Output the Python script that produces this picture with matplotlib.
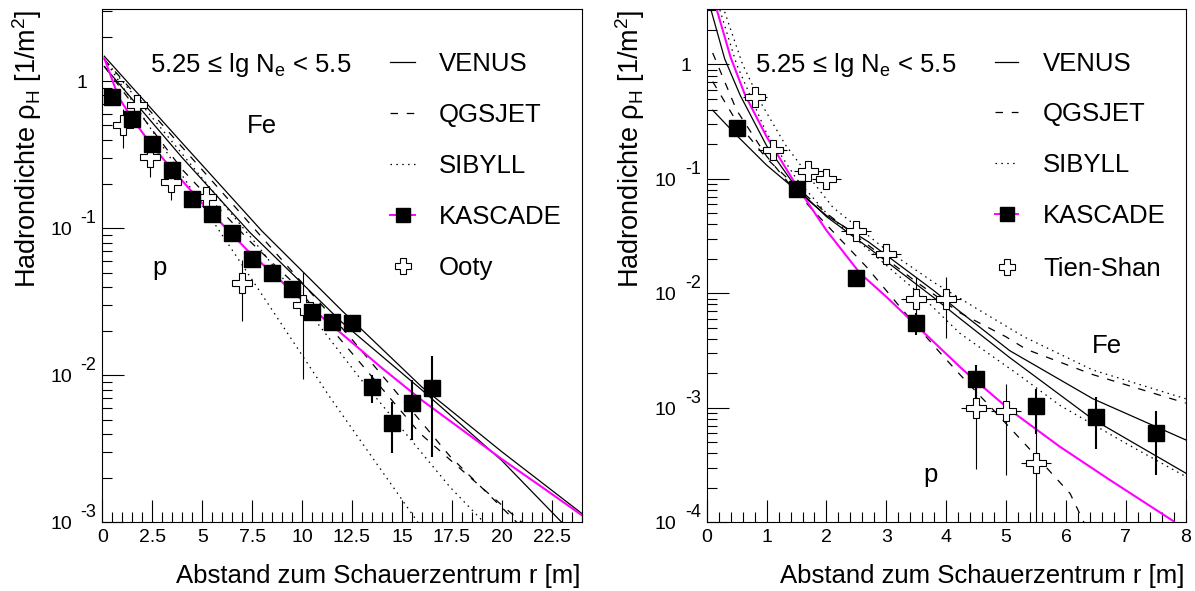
import matplotlib
matplotlib.use('Agg')
import matplotlib.pyplot as plt
from matplotlib.ticker import MultipleLocator, LogLocator, NullFormatter, FuncFormatter

plt.rcParams['font.family'] = ['Liberation Sans', 'DejaVu Sans']
plt.rcParams['mathtext.fontset'] = 'custom'
plt.rcParams['mathtext.rm'] = 'Liberation Sans'
plt.rcParams['mathtext.it'] = 'Liberation Sans:italic'

# ---------------- left panel: Ooty comparison, r up to 24 m ----------------
r_kas_l = [0.5, 1.5, 2.5, 3.5, 4.5, 5.5, 6.5, 7.5, 8.5, 9.5, 10.5, 11.5, 12.5, 13.5, 14.5, 15.5, 16.5]
rho_kas_l = [0.785, 0.554, 0.374, 0.249, 0.158, 0.126, 0.0925, 0.0618, 0.0494, 0.0385,
             0.0271, 0.0232, 0.0228, 0.00828, 0.00476, 0.00645, 0.00816]
err_kas_l = [0.04, 0.03, 0.02, 0.014, 0.009, 0.007, 0.005, 0.0035, 0.003, 0.0025,
             0.002, 0.002, 0.002, 0.0018, 0.0018, 0.0028, 0.0054]

r_ooty = [1.05, 1.72, 2.37, 3.45, 5.2, 6.98, 10.05]
rho_ooty = [0.50, 0.69, 0.307, 0.207, 0.164, 0.0423, 0.030]
err_ooty = [0.15, 0.05, 0.083, 0.051, 0.015, 0.019, 0.0205]

r_fit_l = [0.1, 0.5, 0.8, 1.5, 2.5, 3.5, 5, 7.25, 10, 12, 14, 16, 18, 20, 22, 24]
rho_fit_l = [1.43, 1.02, 0.785, 0.556, 0.363, 0.251, 0.148, 0.0711, 0.0324, 0.0191,
             0.0112, 0.00676, 0.00427, 0.00269, 0.00174, 0.00112]

r_venus_fe_l = [0.1, 4, 8, 12, 16, 20, 24]
rho_venus_fe_l = [1.48, 0.380, 0.0955, 0.0275, 0.00832, 0.00302, 0.00115]
r_venus_p_l = [0.1, 4, 7.4, 12, 16, 20, 23]
rho_venus_p_l = [1.26, 0.302, 0.0933, 0.0229, 0.00794, 0.00263, 0.001]

r_qgs_fe_l = [0.1, 7.4, 12.4, 17.4, 20.75]
rho_qgs_fe_l = [1.41, 0.107, 0.0182, 0.00282, 0.001]
r_qgs_p_l = [0.1, 4, 7.4, 9.4, 12.2, 15.9, 20.08, 21.0]
rho_qgs_p_l = [1.26, 0.251, 0.0813, 0.0447, 0.0158, 0.00403, 0.00128, 0.001]

r_sib_fe_l = [0.1, 7.73, 12.9, 17.4, 19.1]
rho_sib_fe_l = [1.41, 0.0776, 0.00955, 0.00174, 0.001]
r_sib_p_l = [0.1, 7.4, 11.4, 15.8]
rho_sib_p_l = [1.41, 0.0468, 0.00708, 0.001]

# ---------------- right panel: Tien-Shan comparison, r up to 8 m ----------------
r_kas_r = [0.5, 1.5, 2.5, 3.5, 4.5, 5.5, 6.5, 7.5]
rho_kas_r = [0.28, 0.0813, 0.01374, 0.00556, 0.00179, 0.00103, 0.00084, 0.0006]
err_kas_r = [0.01, 0.003, 0.0006, 0.0012, 0.00057, 0.00044, 0.0004, 0.00034]

r_tien = [0.8, 1.1, 1.7, 2.0, 2.5, 3.0, 3.5, 4.0, 4.5, 5.0, 5.5]
rho_tien = [0.523, 0.179, 0.118, 0.099, 0.0351, 0.022, 0.0089, 0.0089, 0.00099, 0.00094, 0.00033]
xerr_tien = [0.2, 0.24, 0.25, 0.24, 0.25, 0.25, 0.25, 0.25, 0.25, 0.25, 0.25]
yerr_tien_lo = [0.04, 0.012, 0.008, 0.007, 0.0025, 0.0016, 0.0038, 0.0048, 0.0007, 0.00068, 0.00032]
yerr_tien_hi = [0.04, 0.012, 0.008, 0.007, 0.0025, 0.0016, 0.0051, 0.0051, 0.0007, 0.00068, 0.0006]

r_fit_r = [0.17, 0.4, 0.64, 1.0, 1.5, 2.0, 2.56, 3.0, 3.4, 4.28, 5.06, 5.9, 6.73, 7.8]
rho_fit_r = [2.99, 1.15, 0.542, 0.234, 0.0871, 0.0355, 0.0150, 0.00933, 0.00589, 0.00215,
             0.000962, 0.000457, 0.000235, 0.000102]

r_venus_fe_r = [0.1, 0.5, 1.0, 1.5, 2.0, 2.7, 3.8, 4.23, 5.06, 6.45, 8.0]
rho_venus_fe_r = [0.398, 0.240, 0.132, 0.0794, 0.0479, 0.0282, 0.0105, 0.00692, 0.00316, 0.00120, 0.000525]
r_venus_p_r = [0.07, 0.3, 0.56, 1.0, 1.5, 2.0, 2.7, 3.8, 4.23, 5.06, 6.45, 8.0]
rho_venus_p_r = [3.02, 1.12, 0.537, 0.195, 0.0832, 0.0468, 0.0251, 0.00912, 0.00603, 0.00275, 0.000794, 0.000269]

r_qgs_fe_r = [0.1, 0.5, 1.0, 1.5, 2.0, 2.7, 3.5, 4.23, 5.0, 5.34, 6.45, 8.0]
rho_qgs_fe_r = [0.708, 0.316, 0.151, 0.0851, 0.0501, 0.0263, 0.0126, 0.00676, 0.00417, 0.00324, 0.00195, 0.0011]
r_qgs_p_r = [0.1, 0.5, 1.0, 1.5, 2.0, 2.67, 3.23, 3.9, 4.23, 4.79, 5.34, 6.07, 6.3]
rho_qgs_p_r = [1.26, 0.398, 0.158, 0.0759, 0.0398, 0.0170, 0.00759, 0.00302, 0.00195, 0.000955,
               0.000468, 0.000178, 0.0001]

r_sib_fe_r = [0.3, 0.6, 0.92, 1.31, 1.81, 2.11, 2.95, 3.78, 4.5, 5.3, 6.45, 8.0]
rho_sib_fe_r = [2.88, 1.0, 0.447, 0.200, 0.0891, 0.0562, 0.0251, 0.0126, 0.00741, 0.00417, 0.00214, 0.0012]
r_sib_p_r = [0.22, 0.5, 1.0, 1.5, 2.0, 2.7, 3.5, 4.23, 5.23, 5.9, 7.0, 8.0]
rho_sib_p_r = [2.99, 1.0, 0.251, 0.1, 0.0501, 0.0240, 0.0105, 0.00447, 0.00191, 0.00105, 0.00049, 0.000251]

model_names = ['VENUS', 'QGSJET', 'SIBYLL']
bin_text = r'5.25 ≤ lg N$_{\mathregular{e}}$ < 5.5'
xlabel = 'Abstand zum Schauerzentrum r [m]'
ylabel = r'Hadrondichte ρ$_{\mathregular{H}}$ [1/m$^{\mathregular{2}}$]'

W, H = 1195, 591
MAGENTA = '#ff00ff'
DASHED = (0, (6, 7))
DOTTED = (0, (1.2, 3.5))
BIG = 18.5
TICK = 14


def fx(px):
    return px / W


def fy(py):
    return 1 - py / H


fig = plt.figure(figsize=(W / 100, H / 100), dpi=100)
ax_l = fig.add_axes([fx(102.3), fy(522.3), (581.7 - 102.3) / W, (522.3 - 9) / H])
ax_r = fig.add_axes([fx(706.7), fy(522.3), (1185.7 - 706.7) / W, (522.3 - 9) / H])


def style_axes(ax, xmax, xmajor, xminor, ymin, ymax, decades):
    ax.set_yscale('log')
    ax.set_xlim(0, xmax)
    ax.set_ylim(ymin, ymax)
    ax.xaxis.set_major_locator(MultipleLocator(xmajor))
    ax.xaxis.set_minor_locator(MultipleLocator(xminor))
    ax.xaxis.set_major_formatter(FuncFormatter(lambda v, p: '%g' % v))
    ax.yaxis.set_major_locator(LogLocator(base=10))
    ax.yaxis.set_minor_locator(LogLocator(base=10, subs=range(2, 10)))
    ax.yaxis.set_major_formatter(NullFormatter())
    ax.yaxis.set_minor_formatter(NullFormatter())
    ax.tick_params(which='both', direction='in', top=False, right=False, width=0.8)
    ax.tick_params(which='major', length=16)
    ax.tick_params(which='minor', length=7.5)
    ax.tick_params(axis='x', labelsize=TICK, pad=5)
    for s in ax.spines.values():
        s.set_linewidth(0.8)
    # ROOT-like decade labels: "1", "10" with a raised exponent
    for d in decades:
        v = 10.0 ** d
        if d == 0:
            ax.annotate('1', xy=(0, v), xycoords=('axes fraction', 'data'),
                        xytext=(-10.8, -5), textcoords='offset points',
                        ha='right', va='baseline', fontsize=TICK)
        else:
            ax.annotate('10', xy=(0, v), xycoords=('axes fraction', 'data'),
                        xytext=(-21.6, -5), textcoords='offset points',
                        ha='right', va='baseline', fontsize=TICK)
            ax.annotate(str(d), xy=(0, v), xycoords=('axes fraction', 'data'),
                        xytext=(-15.8, 3.6), textcoords='offset points',
                        ha='left', va='baseline', fontsize=13)


def draw_models(ax, curves):
    for (r, rho, ls) in curves:
        ax.plot(r, rho, color='black', lw=0.9, ls=ls, zorder=2)


def draw_legend(ax, x_line, x_text, rows, cross_label):
    tr = fig.transFigure
    labels = model_names + ['KASCADE', cross_label]
    styles = ['-', DASHED, DOTTED]
    for i, lab in enumerate(labels):
        y = fy(rows[i])
        if i < 3:
            ax.plot([fx(x_line[0]), fx(x_line[1])], [y, y], color='black', lw=0.9,
                    ls=styles[i], transform=tr, clip_on=False)
        elif i == 3:
            ax.plot([fx(x_line[0]), fx(x_line[1])], [y, y], color=MAGENTA, lw=1.4,
                    transform=tr, clip_on=False)
            ax.plot([fx((x_line[0] + x_line[1]) / 2)], [y], marker='s', ms=9.5,
                    color='black', transform=tr, clip_on=False)
        else:
            ax.plot([fx((x_line[0] + x_line[1]) / 2)], [y], marker='P', ms=11,
                    mfc='white', mec='black', mew=0.8, transform=tr, clip_on=False)
        fig.text(fx(x_text), fy(rows[i] + 9), lab, fontsize=BIG, ha='left', va='baseline')


# left panel
style_axes(ax_l, 24, 2.5, 0.5, 1e-3, 3.1, [0, -1, -2, -3])
draw_models(ax_l, [(r_venus_fe_l, rho_venus_fe_l, '-'), (r_venus_p_l, rho_venus_p_l, '-'),
                   (r_qgs_fe_l, rho_qgs_fe_l, DASHED), (r_qgs_p_l, rho_qgs_p_l, DASHED),
                   (r_sib_fe_l, rho_sib_fe_l, DOTTED), (r_sib_p_l, rho_sib_p_l, DOTTED)])
ax_l.plot(r_fit_l, rho_fit_l, color=MAGENTA, lw=1.5, zorder=2.5)
ax_l.errorbar(r_ooty, rho_ooty, yerr=err_ooty, fmt='none', ecolor='black', elinewidth=0.8, zorder=3)
ax_l.plot(r_ooty, rho_ooty, ls='none', marker='P', ms=15, mfc='white', mec='black', mew=0.8, zorder=3.5)
ax_l.errorbar(r_kas_l, rho_kas_l, yerr=err_kas_l, fmt='none', ecolor='black', elinewidth=1.5, zorder=4)
ax_l.plot(r_kas_l, rho_kas_l, ls='none', marker='s', ms=11, color='black', zorder=4.5)
draw_legend(ax_l, (390, 415), 439, [61.7, 112.7, 164, 215, 266], 'Ooty')
fig.text(fx(150), fy(72), bin_text, fontsize=BIG, ha='left', va='baseline')
fig.text(fx(247), fy(133), 'Fe', fontsize=BIG, ha='left', va='baseline')
fig.text(fx(152), fy(275), 'p', fontsize=BIG, ha='left', va='baseline')
fig.text(fx(581), fy(583), xlabel, fontsize=BIG, ha='right', va='baseline')
fig.text(fx(27), fy(10), ylabel, fontsize=19.5, rotation=90, ha='center', va='top')

# right panel
style_axes(ax_r, 8, 1, 0.2, 1e-4, 3.05, [0, -1, -2, -3, -4])
draw_models(ax_r, [(r_venus_fe_r, rho_venus_fe_r, '-'), (r_venus_p_r, rho_venus_p_r, '-'),
                   (r_qgs_fe_r, rho_qgs_fe_r, DASHED), (r_qgs_p_r, rho_qgs_p_r, DASHED),
                   (r_sib_fe_r, rho_sib_fe_r, DOTTED), (r_sib_p_r, rho_sib_p_r, DOTTED)])
ax_r.plot(r_fit_r, rho_fit_r, color=MAGENTA, lw=1.5, zorder=2.5)
ax_r.errorbar(r_tien, rho_tien, xerr=xerr_tien, yerr=[yerr_tien_lo, yerr_tien_hi], fmt='none',
              ecolor='black', elinewidth=0.8, zorder=3)
ax_r.plot(r_tien, rho_tien, ls='none', marker='P', ms=15, mfc='white', mec='black', mew=0.8, zorder=3.5)
ax_r.errorbar(r_kas_r, rho_kas_r, yerr=err_kas_r, fmt='none', ecolor='black', elinewidth=1.5, zorder=4)
ax_r.plot(r_kas_r, rho_kas_r, ls='none', marker='s', ms=11, color='black', zorder=4.5)
draw_legend(ax_r, (995, 1018), 1043, [61.7, 111.7, 163, 214, 266.7], 'Tien-Shan')
fig.text(fx(755), fy(72), bin_text, fontsize=BIG, ha='left', va='baseline')
fig.text(fx(1092), fy(353), 'Fe', fontsize=BIG, ha='left', va='baseline')
fig.text(fx(923), fy(482), 'p', fontsize=BIG, ha='left', va='baseline')
fig.text(fx(1185), fy(583), xlabel, fontsize=BIG, ha='right', va='baseline')
fig.text(fx(630), fy(10), ylabel, fontsize=19.5, rotation=90, ha='center', va='top')

fig.savefig('out.png', dpi=100)
